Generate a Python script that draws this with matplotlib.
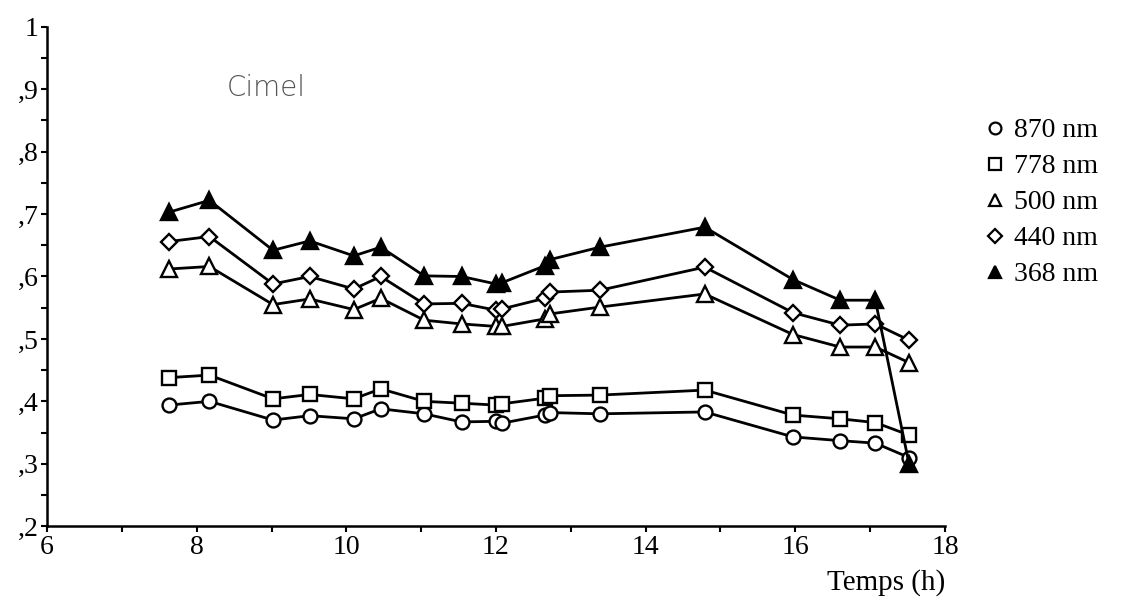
import matplotlib
matplotlib.use("Agg")
import matplotlib.pyplot as plt
from matplotlib.lines import Line2D
from matplotlib.ticker import MultipleLocator, FixedLocator

times = [7.63, 8.17, 9.02, 9.51, 10.1, 10.46, 11.04, 11.54, 12.0, 12.08,
         12.65, 12.72, 13.39, 14.79, 15.97, 16.6, 17.07, 17.52]
s368 = [0.703, 0.722, 0.642, 0.657, 0.633, 0.647, 0.601, 0.600, 0.588, 0.590,
        0.617, 0.627, 0.647, 0.679, 0.595, 0.562, 0.562, 0.300]
s440 = [0.656, 0.664, 0.588, 0.600, 0.580, 0.600, 0.556, 0.557, 0.546, 0.548,
        0.565, 0.575, 0.578, 0.615, 0.542, 0.522, 0.524, 0.498]
s500 = [0.612, 0.616, 0.555, 0.564, 0.547, 0.565, 0.530, 0.524, 0.520, 0.520,
        0.532, 0.540, 0.551, 0.572, 0.507, 0.487, 0.487, 0.462]
s778 = [0.438, 0.442, 0.404, 0.411, 0.404, 0.420, 0.400, 0.397, 0.394, 0.396,
        0.405, 0.409, 0.410, 0.418, 0.378, 0.372, 0.366, 0.346]
s870 = [0.394, 0.400, 0.370, 0.377, 0.372, 0.388, 0.380, 0.367, 0.368, 0.365,
        0.378, 0.382, 0.380, 0.383, 0.343, 0.337, 0.333, 0.310]

labels = ["870 nm", "778 nm", "500 nm", "440 nm", "368 nm"]
yticks = [0.2, 0.3, 0.4, 0.5, 0.6, 0.7, 0.8, 0.9, 1.0]
ytick_labels = [",2", ",3", ",4", ",5", ",6", ",7", ",8", ",9", "1"]
xticks = [6, 8, 10, 12, 14, 16, 18]

serif = "Liberation Serif"

fig = plt.figure(figsize=(11.28, 6.09), dpi=100)
ax = fig.add_axes([0.0417, 0.136, 0.796, 0.820])

styles = [
    (s870, "o", "white", 10),
    (s778, "s", "white", 9.5),
    (s500, "^", "white", 11),
    (s440, "D", "white", 8),
    (s368, "^", "black", 11),
]
for vals, m, fc, ms in styles:
    ax.plot(times, vals, color="black", lw=2.0, marker=m, markersize=ms,
            markerfacecolor=fc, markeredgecolor="black", markeredgewidth=1.7,
            zorder=3)

ax.set_xlim(6, 18)
ax.set_ylim(0.2, 1.0)
ax.spines["top"].set_visible(False)
ax.spines["right"].set_visible(False)
ax.spines["left"].set_linewidth(1.8)
ax.spines["bottom"].set_linewidth(1.8)

ax.xaxis.set_major_locator(FixedLocator(xticks))
ax.xaxis.set_minor_locator(MultipleLocator(1))
ax.yaxis.set_major_locator(FixedLocator(yticks))
ax.yaxis.set_minor_locator(MultipleLocator(0.05))
ax.set_xticklabels([str(t) for t in xticks], fontfamily=serif, fontsize=20)
ax.set_yticklabels(ytick_labels, fontfamily=serif, fontsize=20)
ax.tick_params(axis="both", which="both", direction="out", length=4, width=1.5, pad=2)

ax.text(1.0, -0.085, "Temps (h)", transform=ax.transAxes, ha="right", va="top",
        fontfamily=serif, fontsize=21)
ax.text(0.2, 0.878, "Cimel", transform=ax.transAxes, ha="left", va="center",
        fontfamily="DejaVu Sans", fontweight="light", fontsize=20, color="#555555")

handles = []
for (vals, m, fc, ms), lab in zip(styles, labels):
    handles.append(Line2D([], [], linestyle="none", marker=m, markersize=ms * 0.85,
                          markerfacecolor=fc, markeredgecolor="black",
                          markeredgewidth=1.6, label=lab))
fig.legend(handles=handles, loc="upper left", bbox_to_anchor=(0.862, 0.829),
           frameon=False, prop={"family": serif, "size": 20},
           handlelength=0.6, handletextpad=0.4, labelspacing=0.38, borderpad=0)

fig.savefig("out.png", dpi=100)
